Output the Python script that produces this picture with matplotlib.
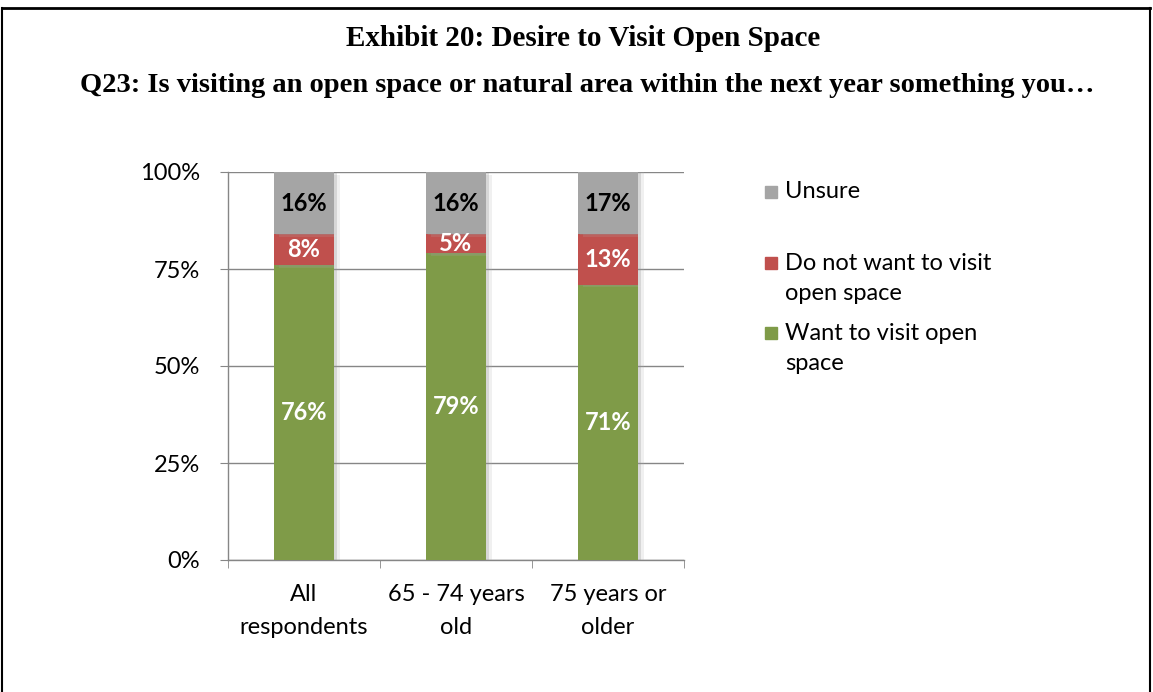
import matplotlib
matplotlib.use("Agg")
import matplotlib.pyplot as plt
import matplotlib.patheffects as pe
from matplotlib.patches import Rectangle
from matplotlib.lines import Line2D

categories = ["All\nrespondents", "65 - 74 years\nold", "75 years or\nolder"]
want = [76, 79, 71]
not_want = [8, 5, 13]
unsure = [16, 16, 17]
yticks = [0, 25, 50, 75, 100]
ytick_labels = ["0%", "25%", "50%", "75%", "100%"]

GREEN = "#7F9B48"
RED = "#C0504D"
GRAY = "#A5A5A5"
GRID = "#868686"
SANS = "Lato"
SERIF = "Liberation Serif"
FS = 17

fig = plt.figure(figsize=(11.53, 6.92), dpi=100)
W, H = 1153, 692

def fx(px):
    return px / W

def fy(py):
    return 1 - py / H

# outer frame
fig.add_artist(Line2D([fx(2), fx(2)], [fy(8), 0], color="black", lw=1.5))
fig.add_artist(Line2D([fx(2), fx(1150)], [fy(8), fy(8)], color="black", lw=2))
fig.add_artist(Line2D([fx(1150), fx(1150)], [fy(8), 0], color="black", lw=1.5))

fig.text(fx(583), fy(39), "Exhibit 20: Desire to Visit Open Space", ha="center", va="center",
         family=SERIF, fontweight="bold", fontsize=21)
fig.text(fx(587), fy(86), "Q23: Is visiting an open space or natural area within the next year something you…",
         ha="center", va="center", family=SERIF, fontweight="bold", fontsize=20.5)

ax = fig.add_axes([fx(228), fy(560), fx(684) - fx(228), fy(172) - fy(560)])
x = list(range(len(categories)))
bw = 0.40
shadow = [pe.SimplePatchShadow(offset=(4, -2), shadow_rgbFace="#b0b0b0", alpha=0.18),
          pe.SimplePatchShadow(offset=(2, -1), shadow_rgbFace="#909090", alpha=0.25),
          pe.Normal()]

bottoms2 = list(want)
bottoms3 = [w + n for w, n in zip(want, not_want)]
b1 = ax.bar(x, want, bw, color=GREEN, zorder=3)
b2 = ax.bar(x, not_want, bw, bottom=bottoms2, color=RED, zorder=3)
b3 = ax.bar(x, unsure, bw, bottom=bottoms3, color=GRAY, zorder=3)
for bars in (b1, b2, b3):
    for r in bars:
        r.set_path_effects(shadow)

for i in x:
    ax.text(i, want[i] / 2, f"{want[i]}%", ha="center", va="center", color="white",
            fontweight="bold", fontsize=FS, family=SANS, zorder=4)
    ax.text(i, want[i] + not_want[i] / 2, f"{not_want[i]}%", ha="center", va="center", color="white",
            fontweight="bold", fontsize=FS, family=SANS, zorder=4)
    top = min(100, bottoms3[i] + unsure[i])
    ax.text(i, (bottoms3[i] + top) / 2, f"{unsure[i]}%", ha="center", va="center", color="black",
            fontweight="bold", fontsize=FS, family=SANS, zorder=4)

ax.set_xlim(-0.5, 2.5)
ax.set_ylim(0, 100)
ax.set_yticks(yticks)
ax.set_yticklabels(ytick_labels, family=SANS, fontsize=FS)
ax.set_xticks(x)
ax.set_xticklabels(categories, family=SANS, fontsize=FS, linespacing=1.7)
ax.set_xticks([-0.5, 0.5, 1.5, 2.5], minor=True)
ax.tick_params(axis="x", which="major", length=0, pad=17)
ax.tick_params(axis="x", which="minor", length=6, color=GRID, direction="out")
ax.tick_params(axis="y", length=6, color=GRID, direction="out", pad=14)
ax.yaxis.grid(True, color=GRID, lw=1, zorder=0)
ax.set_axisbelow(True)
for s in ("top", "right"):
    ax.spines[s].set_visible(False)
for s in ("left", "bottom"):
    ax.spines[s].set_color(GRID)
    ax.spines[s].set_linewidth(1)

# legend, drawn entry by entry
legend_items = [(GRAY, "Unsure", 192), (RED, "Do not want to visit\nopen space", 263),
                (GREEN, "Want to visit open\nspace", 333)]
for color, label, ypx in legend_items:
    fig.add_artist(Rectangle((fx(765), fy(ypx + 6)), fx(12), fy(ypx - 6) - fy(ypx + 6),
                             transform=fig.transFigure, color=color))
    for k, line in enumerate(label.split("\n")):
        fig.text(fx(785), fy(ypx + 31 * k), line, ha="left", va="center", family=SANS,
                 fontsize=FS)

fig.savefig("out.png", dpi=100)
